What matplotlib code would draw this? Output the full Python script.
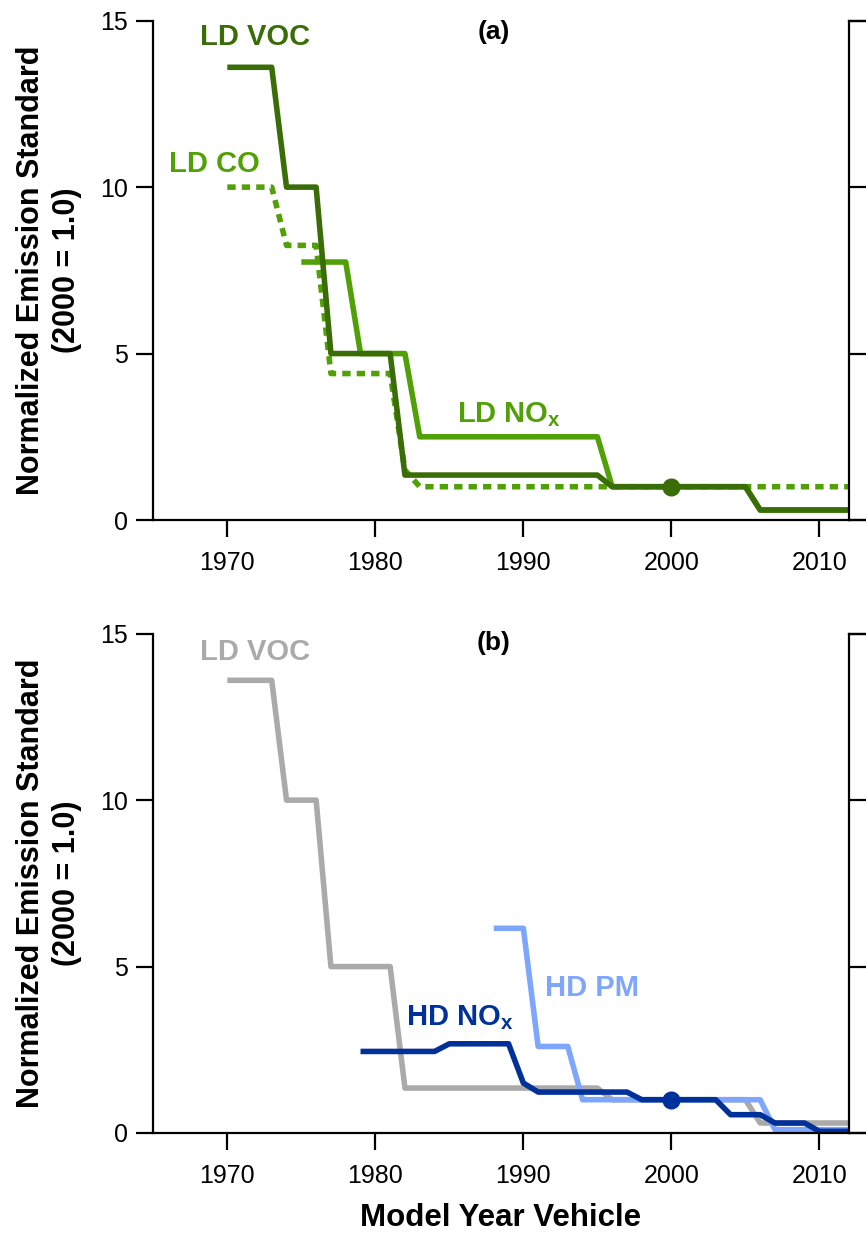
# -*- coding: utf-8 -*-
"""
Normalized emission standards by model year (2000 = 1.0)
"""

import matplotlib
matplotlib.use('Agg')
import matplotlib.pyplot as plt

plt.rcParams['font.family'] = ['Liberation Sans', 'DejaVu Sans']
plt.rcParams['mathtext.fontset'] = 'custom'
plt.rcParams['mathtext.rm'] = 'Liberation Sans'
plt.rcParams['mathtext.bf'] = 'Liberation Sans:bold'

# ---- data ----
ld_voc_years = [1970, 1973, 1974, 1976, 1977, 1981, 1982, 1995, 1996, 2005, 2006, 2012]
ld_voc_vals = [13.6, 13.6, 10.0, 10.0, 5.0, 5.0, 1.35, 1.35, 1.0, 1.0, 0.3, 0.3]

ld_co_years = [1970, 1973, 1974, 1976, 1977, 1981, 1982, 1983, 2012]
ld_co_vals = [10.0, 10.0, 8.25, 8.25, 4.4, 4.4, 1.5, 1.0, 1.0]

ld_nox_years = [1975, 1978, 1979, 1982, 1983, 1995, 1996, 2005, 2006, 2012]
ld_nox_vals = [7.75, 7.75, 5.0, 5.0, 2.5, 2.5, 1.0, 1.0, 0.3, 0.3]

hd_nox_years = [1979, 1984, 1985, 1989, 1990, 1991, 1997, 1998, 2003, 2004, 2006, 2007, 2009, 2010, 2012]
hd_nox_vals = [2.45, 2.45, 2.68, 2.68, 1.5, 1.23, 1.23, 1.0, 1.0, 0.55, 0.55, 0.3, 0.3, 0.05, 0.05]

hd_pm_years = [1988, 1990, 1991, 1993, 1994, 2006, 2007, 2012]
hd_pm_vals = [6.15, 6.15, 2.6, 2.6, 1.0, 1.0, 0.1, 0.1]

ref_year = [2000]
ref_val = [1.0]

x_ticks = [1970, 1980, 1990, 2000, 2010]
y_ticks = [0, 5, 10, 15]

# 颜色
DARK_GREEN = '#3A6C08'
LIGHT_GREEN = '#52A008'
GREY = '#AAAAAA'
DARK_BLUE = '#00309A'
LIGHT_BLUE = '#7EA6FF'

LW = 4.0

fig = plt.figure(figsize=(8.66, 12.34), dpi=100)

W, H = 866.0, 1234.0
left = 153.3 / W
width = (849 - 153.3) / W
height = 499.3 / H
bottom_a = 1 - 520 / H
bottom_b = 1 - 1133 / H


def style_axes(ax):
    ax.set_xlim(1965, 2012)
    ax.set_ylim(0, 15)
    ax.set_xticks(x_ticks)
    ax.set_yticks(y_ticks)
    for side in ['top', 'right']:
        ax.spines[side].set_visible(False)
    for side in ['left', 'bottom']:
        ax.spines[side].set_linewidth(1.6)
    ax.tick_params(axis='both', direction='out', length=12.5, width=1.6,
                   labelsize=18)
    ax.tick_params(axis='x', pad=10)
    ax.tick_params(axis='y', pad=5.5)


def side_panel(bottom):
    # the neighbouring panel, cut off at the figure edge
    ax2 = fig.add_axes([849 / W, bottom, 0.2, height])
    ax2.set_ylim(0, 15)
    ax2.set_yticks(y_ticks)
    ax2.set_xticks([])
    ax2.spines['right'].set_visible(False)
    for side in ['left', 'top', 'bottom']:
        ax2.spines[side].set_linewidth(1.6)
    ax2.tick_params(axis='y', direction='in', length=14, width=1.6,
                    labelleft=False)
    ax2.patch.set_alpha(0)


def add_line(ax, x, y, color, **kw):
    ax.plot(x, y, color=color, lw=LW, solid_joinstyle='round',
            solid_capstyle='butt', **kw)


# ---- panel (a) ----
ax_a = fig.add_axes([left, bottom_a, width, height])
style_axes(ax_a)
ax_a.plot(ld_co_years, ld_co_vals, color=LIGHT_GREEN, lw=LW,
          linestyle=(0, (1.5, 1.1)), dash_capstyle='butt')
add_line(ax_a, ld_nox_years, ld_nox_vals, LIGHT_GREEN)
add_line(ax_a, ld_voc_years, ld_voc_vals, DARK_GREEN)
ax_a.plot(ref_year, ref_val, 'o', color=DARK_GREEN, markersize=12)

ax_a.text(1971.9, 14.26, 'LD VOC', color=DARK_GREEN, fontsize=21,
          fontweight='bold', ha='center', va='baseline')
ax_a.text(1969.1, 10.45, 'LD CO', color=LIGHT_GREEN, fontsize=21,
          fontweight='bold', ha='center', va='baseline')
ax_a.text(1985.5, 2.94, r'LD NO$_\mathbf{x}$', color=LIGHT_GREEN, fontsize=21,
          fontweight='bold', ha='left', va='baseline')
ax_a.text(1988.0, 14.45, '(a)', color='black', fontsize=19,
          fontweight='bold', ha='center', va='baseline')
side_panel(bottom_a)

# ---- panel (b) ----
ax_b = fig.add_axes([left, bottom_b, width, height])
style_axes(ax_b)
add_line(ax_b, ld_voc_years, ld_voc_vals, GREY)
add_line(ax_b, hd_pm_years, hd_pm_vals, LIGHT_BLUE)
add_line(ax_b, hd_nox_years, hd_nox_vals, DARK_BLUE)
ax_b.plot(ref_year, ref_val, 'o', color=DARK_BLUE, markersize=12)

ax_b.text(1971.9, 14.2, 'LD VOC', color=GREY, fontsize=21,
          fontweight='bold', ha='center', va='baseline')
ax_b.text(1982.1, 3.24, r'HD NO$_\mathbf{x}$', color=DARK_BLUE, fontsize=21,
          fontweight='bold', ha='left', va='baseline')
ax_b.text(1991.45, 4.11, 'HD PM', color=LIGHT_BLUE, fontsize=21,
          fontweight='bold', ha='left', va='baseline')
ax_b.text(1988.0, 14.5, '(b)', color='black', fontsize=19,
          fontweight='bold', ha='center', va='baseline')
side_panel(bottom_b)

# 坐标轴标题
ylab = 'Normalized Emission Standard\n(2000 = 1.0)'
for b in [bottom_a, bottom_b]:
    fig.text(49 / W, b + height / 2, ylab, rotation=90, fontsize=22,
             fontweight='bold', ha='center', va='center',
             multialignment='center', linespacing=1.3)

fig.text(501 / W, 1 - 1218 / H, 'Model Year Vehicle', fontsize=22.5,
         fontweight='bold', ha='center', va='center')

fig.savefig('out.png', dpi=100)
